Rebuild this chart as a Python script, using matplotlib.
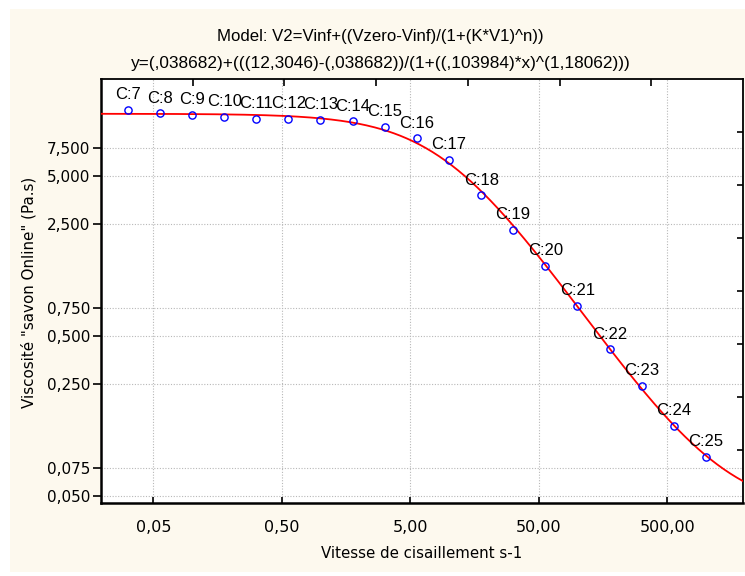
import numpy as np
import matplotlib
matplotlib.use("Agg")
import matplotlib.pyplot as plt
from matplotlib.patches import Rectangle
from matplotlib.ticker import FixedLocator, FixedFormatter, NullLocator

# ---- data ----
labels = ["C:7", "C:8", "C:9", "C:10", "C:11", "C:12", "C:13", "C:14", "C:15", "C:16",
          "C:17", "C:18", "C:19", "C:20", "C:21", "C:22", "C:23", "C:24", "C:25"]
shear_rate = [0.0316, 0.0562, 0.1, 0.178, 0.316, 0.562, 1.0, 1.78, 3.16, 5.62,
              10.0, 17.8, 31.6, 56.2, 100.0, 178.0, 316.0, 562.0, 1000.0]
viscosity = [12.97, 12.37, 12.13, 11.78, 11.45, 11.45, 11.23, 11.02, 10.2, 8.63,
             6.34, 3.81, 2.31, 1.372, 0.771, 0.413, 0.244, 0.138, 0.0877]

# model parameters (from the title)
v_inf = 0.038682
v_zero = 12.3046
k_par = 0.103984
n_par = 1.18062

x_ticks = [0.05, 0.5, 5, 50, 500]
x_tick_labels = ["0,05", "0,50", "5,00", "50,00", "500,00"]
y_ticks = [0.05, 0.075, 0.25, 0.5, 0.75, 2.5, 5, 7.5]
y_tick_labels = ["0,050", "0,075", "0,250", "0,500", "0,750", "2,500", "5,000", "7,500"]

title1 = "Model: V2=Vinf+((Vzero-Vinf)/(1+(K*V1)^n))"
title2 = "y=(,038682)+(((12,3046)-(,038682))/(1+((,103984)*x)^(1,18062)))"
xlabel = "Vitesse de cisaillement s-1"
ylabel = 'Viscosité "savon Online" (Pa.s)'

plt.rcParams['font.family'] = ['Liberation Sans', 'DejaVu Sans']

W, H = 745, 576
fig = plt.figure(figsize=(W / 100, H / 100), dpi=100, facecolor="white")
fig.patches.append(Rectangle((10 / W, 4 / H), 1, (H - 13) / H, transform=fig.transFigure,
                             facecolor="#fdf9ee", edgecolor="none", zorder=-10))

ax = fig.add_axes([101 / W, (H - 503) / H, 642 / W, 424 / H])
ax.set_facecolor("white")
ax.set_xscale("log")
ax.set_yscale("log")
ax.set_xlim(0.0196, 1941)
ax.set_ylim(0.0452, 20.3)

xx = np.logspace(np.log10(0.0196), np.log10(1941), 400)
yy = v_inf + (v_zero - v_inf) / (1 + (k_par * xx) ** n_par)
ax.plot(xx, yy, color="#ff0000", lw=1.3, zorder=3)
ax.plot(shear_rate, viscosity, linestyle="none", marker="o", markersize=5.2,
        markerfacecolor="none", markeredgecolor="#0000ff", markeredgewidth=1.0, zorder=4)
for lab, xv, yv in zip(labels, shear_rate, viscosity):
    ax.annotate(lab, (xv, yv), xytext=(0, 5.5), textcoords="offset points",
                ha="center", va="bottom", fontsize=12, color="black", zorder=5)

ax.xaxis.set_major_locator(FixedLocator(x_ticks))
ax.xaxis.set_major_formatter(FixedFormatter(x_tick_labels))
ax.xaxis.set_minor_locator(NullLocator())
ax.yaxis.set_major_locator(FixedLocator(y_ticks))
ax.yaxis.set_major_formatter(FixedFormatter(y_tick_labels))
ax.yaxis.set_minor_locator(NullLocator())

ax.grid(True, which="major", linestyle=(0, (1, 1.5)), color="#b8b8b8", lw=0.8)
ax.tick_params(axis="x", direction="in", length=4, width=1.2, pad=12, labelsize=11.5)
ax.tick_params(axis="y", direction="out", length=6, width=1.2, pad=2, labelsize=11)
for lab in ax.get_xticklabels() + ax.get_yticklabels():
    lab.set_fontfamily("DejaVu Sans")
for s in ax.spines.values():
    s.set_linewidth(1.3)
ax.spines["bottom"].set_linewidth(1.8)
ax.spines["left"].set_linewidth(1.8)

# mirrored secondary ticks (top and right)
axt = ax.twiny()
axt.set_xlim(0, 1)
axt.xaxis.set_major_locator(FixedLocator([i / 7 for i in range(1, 7)]))
axt.tick_params(axis="x", direction="in", length=5, width=1.2, labeltop=False)
axr = ax.twinx()
axr.set_ylim(0, 1)
axr.yaxis.set_major_locator(FixedLocator([i / 8 for i in range(1, 8)]))
axr.tick_params(axis="y", direction="in", length=4, width=1.2, labelright=False)
for a in (axt, axr):
    for s in a.spines.values():
        s.set_visible(False)

fig.text(380 / W, 1 - 36.5 / H, title1, ha="center", va="center", fontsize=12.05)
fig.text(381 / W, 1 - 63.5 / H, title2, ha="center", va="center", fontsize=12.4)
fig.text(422 / W, 1 - 554 / H, xlabel, ha="center", va="center", fontsize=10.8,
         family="DejaVu Sans")
fig.text(29 / W, 1 - 292 / H, ylabel, ha="center", va="center", rotation=90, fontsize=10.9,
         family="DejaVu Sans")

fig.savefig("out.png", dpi=100, facecolor="white")
